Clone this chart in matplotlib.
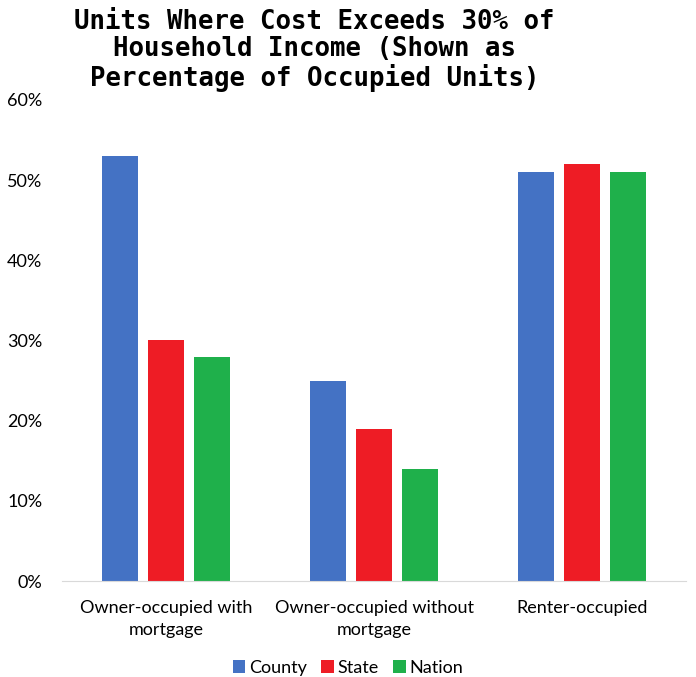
import numpy as np
import matplotlib.pyplot as plt
from matplotlib.ticker import PercentFormatter

categories = ['Owner-occupied with\nmortgage', 'Owner-occupied without\nmortgage', 'Renter-occupied']
series = ['County', 'State', 'Nation']
county = [53, 25, 51]
state = [30, 19, 52]
nation = [28, 14, 51]
colors = ['#4472C4', '#EE1C25', '#1FB04B']

plt.rcParams['font.family'] = ['Lato', 'DejaVu Sans']

fig = plt.figure(figsize=(6.96, 6.77), dpi=100)
ax = fig.add_axes([0.089, 0.1418, 0.897, 0.7105])

x = np.arange(len(categories))
width = 0.173
step = 0.221
for i, (name, vals) in enumerate(zip(series, [county, state, nation])):
    ax.bar(x + (i - 1) * step, vals, width, color=colors[i], label=name)

ax.set_xlim(-0.5, 2.5)
ax.set_ylim(0, 60)
ax.set_yticks(np.arange(0, 61, 10))
ax.yaxis.set_major_formatter(PercentFormatter(decimals=0))
ax.set_xticks(x)
ax.set_xticklabels(categories, fontsize=13, linespacing=1.45)
ax.tick_params(axis='y', length=0, labelsize=13, pad=14)
ax.tick_params(axis='x', length=0, pad=14)
for s in ['top', 'right', 'left']:
    ax.spines[s].set_visible(False)
ax.spines['bottom'].set_color('#D9D9D9')

fig.suptitle('Units Where Cost Exceeds 30% of\nHousehold Income (Shown as\nPercentage of Occupied Units)',
             x=0.452, y=0.986, fontsize=18.5, fontweight='bold', family='DejaVu Sans Mono',
             linespacing=1.05, va='top')

fig.legend(loc='lower center', bbox_to_anchor=(0.5, -0.022), ncol=3, frameon=False,
           fontsize=13, handlelength=0.7, handleheight=0.7, handletextpad=0.2, columnspacing=0.8)

fig.savefig('out.png', dpi=100)
